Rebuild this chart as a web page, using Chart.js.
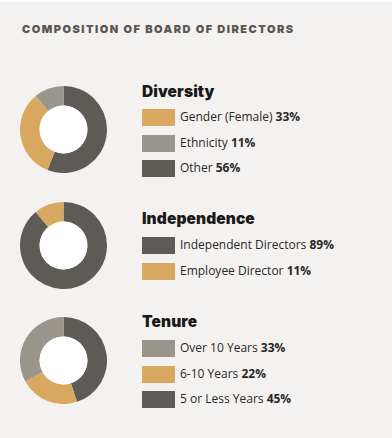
<!DOCTYPE html>
<html>
<head>
<meta charset="utf-8">
<script src="https://cdn.jsdelivr.net/npm/chart.js@4.4.1/dist/chart.umd.min.js"></script>
<style>
  html, body { margin: 0; padding: 0; }
  body {
    width: 392px; height: 438px; position: relative; overflow: hidden;
    background: #f4f2f0; border-top: 2px solid #ffffff; box-sizing: border-box;
  }
  #title {
    position: absolute; left: 22px; top: 20px;
    font: 900 11px "Inter", "DejaVu Sans", sans-serif; letter-spacing: 1.5px;
    color: #5b5650;
  }
  .donut { position: absolute; left: 20px; width: 87px; height: 87px; }
  .group-name {
    position: absolute; left: 142px;
    font: 900 15.5px "Inter", "DejaVu Sans", sans-serif; color: #1c1a19; letter-spacing: 0.1px;
  }
  .legend-row {
    position: absolute; left: 142px; height: 17px;
    font: 400 12px "Open Sans", sans-serif; color: #2a2826; line-height: 17px;
  }
  .legend-row .sw { position: absolute; left: 0; top: 0; width: 33px; height: 17px; }
  .legend-row .txt { position: absolute; left: 38px; top: -1px; white-space: nowrap; }
  .legend-row b { font-weight: 700; }
</style>
</head>
<body>
<div id="title">COMPOSITION OF BOARD OF DIRECTORS</div>
<div id="charts"></div>
<script>
  var ORANGE = '#d9a860', GRAY = '#9a958b', DARK = '#5e5a55';

  // groups and their values (legend order)
  var groupNames = ['Diversity', 'Independence', 'Tenure'];

  var diversityLabels = ['Gender (Female)', 'Ethnicity', 'Other'];
  var diversityValues = [33, 11, 56];
  var diversityColors = [ORANGE, GRAY, DARK];
  var diversityDrawOrder = [2, 0, 1];   // clockwise from 12 o'clock

  var independenceLabels = ['Independent Directors', 'Employee Director'];
  var independenceValues = [89, 11];
  var independenceColors = [DARK, ORANGE];
  var independenceDrawOrder = [0, 1];

  var tenureLabels = ['Over 10 Years', '6-10 Years', '5 or Less Years'];
  var tenureValues = [33, 22, 45];
  var tenureColors = [GRAY, ORANGE, DARK];
  var tenureDrawOrder = [2, 1, 0];

  // layout per group: donut centre y, title top, first swatch top
  var layout = [
    { cy: 127.3, titleTop: 80, rowTop: 107, gap: 25.5 },
    { cy: 243.5, titleTop: 207, rowTop: 235, gap: 26 },
    { cy: 358.5, titleTop: 310, rowTop: 338, gap: 25.5 }
  ];

  var groups = [
    [diversityLabels, diversityValues, diversityColors, diversityDrawOrder],
    [independenceLabels, independenceValues, independenceColors, independenceDrawOrder],
    [tenureLabels, tenureValues, tenureColors, tenureDrawOrder]
  ];

  // white hole in the middle of each ring
  var holePlugin = {
    id: 'hole',
    afterDatasetsDraw: function(chart) {
      var arc = chart.getDatasetMeta(0).data[0];
      if (!arc) return;
      var ctx = chart.ctx;
      ctx.save();
      ctx.fillStyle = '#ffffff';
      ctx.beginPath();
      ctx.arc(arc.x, arc.y, arc.innerRadius, 0, Math.PI * 2);
      ctx.fill();
      ctx.restore();
    }
  };

  function buildGroup(i) {
    var g = groups[i], pos = layout[i];
    var labels = g[0], values = g[1], colors = g[2], order = g[3];
    var host = document.getElementById('charts');

    var box = document.createElement('div');
    box.className = 'donut';
    box.style.top = (pos.cy - 43.5) + 'px';
    box.innerHTML = '<canvas id="donut' + i + '"></canvas>';
    host.appendChild(box);

    var name = document.createElement('div');
    name.className = 'group-name';
    name.style.top = pos.titleTop + 'px';
    name.textContent = groupNames[i];
    host.appendChild(name);

    var view = '';
    for (var k = 0; k < labels.length; k++) {
      view += '<div class="legend-row" style="top:' + (pos.rowTop + k * pos.gap) + 'px">' +
        '<div class="sw" style="background:' + colors[k] + '"></div>' +
        '<div class="txt">' + labels[k] + ' <b>' + values[k] + '%</b></div>' +
      '</div>';
    }
    host.insertAdjacentHTML('beforeend', view);

    new Chart(document.getElementById('donut' + i), {
      type: 'doughnut',
      data: {
        labels: order.map(function(k){ return labels[k]; }),
        datasets: [{
          data: order.map(function(k){ return values[k]; }),
          backgroundColor: order.map(function(k){ return colors[k]; }),
          borderWidth: 0
        }]
      },
      options: {
        responsive: true,
        maintainAspectRatio: false,
        cutout: '55%',
        animation: false,
        events: [],
        layout: { padding: 0 },
        plugins: { legend: { display: false }, tooltip: { enabled: false } }
      },
      plugins: [holePlugin]
    });
  }

  for (var i = 0; i < groups.length; i++) buildGroup(i);
</script>
</body>
</html>
